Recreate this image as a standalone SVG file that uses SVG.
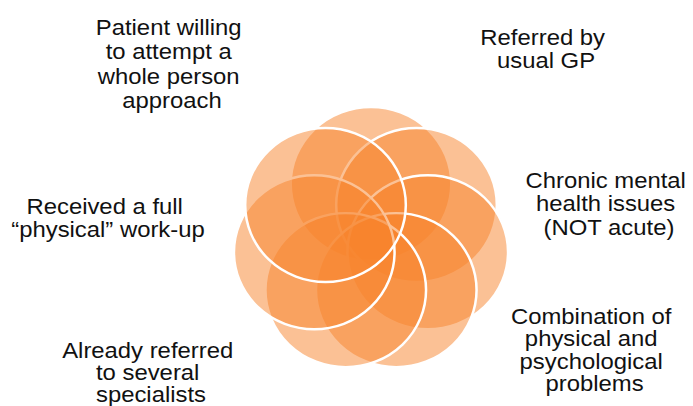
<svg xmlns="http://www.w3.org/2000/svg" width="693" height="406" viewBox="0 0 693 406">
  <style>
    .petal { fill: #F7842C; fill-opacity: 0.5; stroke: #FFFFFF; stroke-width: 2.4; }
    .label { font-family: "Liberation Sans", Arial, Helvetica, sans-serif; font-size: 21.5px; fill: #111111; text-anchor: middle; }
  </style>
  <rect x="0" y="0" width="693" height="406" fill="#FFFFFF"/>

  <!-- seven overlapping translucent petals on a ring, painted clockwise from the top;
       the ring is drawn slightly wider than tall -->
  <g id="flower" transform="translate(371,239.8) scale(1.043,1)">
    <circle class="petal" cx="0" cy="-55.8" r="77"/>
    <circle class="petal" cx="43.62" cy="-34.79" r="77"/>
    <circle class="petal" cx="54.40" cy="12.42" r="77"/>
    <circle class="petal" cx="24.21" cy="50.28" r="77"/>
    <circle class="petal" cx="-24.21" cy="50.28" r="77"/>
    <circle class="petal" cx="-54.40" cy="12.42" r="77"/>
    <circle class="petal" cx="-43.62" cy="-34.79" r="77"/>
  </g>

  <g id="node-whole-person" transform="translate(172,0) scale(1.11,1)">
    <text class="label">
      <tspan x="0" y="35">Patient willing</tspan>
      <tspan x="0" y="59.5">to attempt a</tspan>
      <tspan x="0" y="84">whole person</tspan>
      <tspan x="0" y="108.5">approach</tspan>
    </text>
  </g>

  <g id="node-referred-gp" transform="translate(546,0) scale(1.11,1)">
    <text class="label">
      <tspan x="0" y="45">Referred by</tspan>
      <tspan x="0" y="68.5">usual GP</tspan>
    </text>
  </g>

  <g id="node-chronic-mental" transform="translate(609,0) scale(1.11,1)">
    <text class="label">
      <tspan x="0" y="188">Chronic mental</tspan>
      <tspan x="0" y="211.5">health issues</tspan>
      <tspan x="0" y="235">(NOT acute)</tspan>
    </text>
  </g>

  <g id="node-physical-workup" transform="translate(108,0) scale(1.11,1)">
    <text class="label">
      <tspan x="0" y="214">Received a full</tspan>
      <tspan x="0" y="237.5">“physical” work-up</tspan>
    </text>
  </g>

  <g id="node-specialists" transform="translate(151,0) scale(1.11,1)">
    <text class="label">
      <tspan x="0" y="358">Already referred</tspan>
      <tspan x="0" y="380">to several</tspan>
      <tspan x="0" y="402">specialists</tspan>
    </text>
  </g>

  <g id="node-combination" transform="translate(594.5,0) scale(1.11,1)">
    <text class="label">
      <tspan x="0" y="324">Combination of</tspan>
      <tspan x="0" y="346.5">physical and</tspan>
      <tspan x="0" y="369.5">psychological</tspan>
      <tspan x="0" y="391.5">problems</tspan>
    </text>
  </g>
</svg>
